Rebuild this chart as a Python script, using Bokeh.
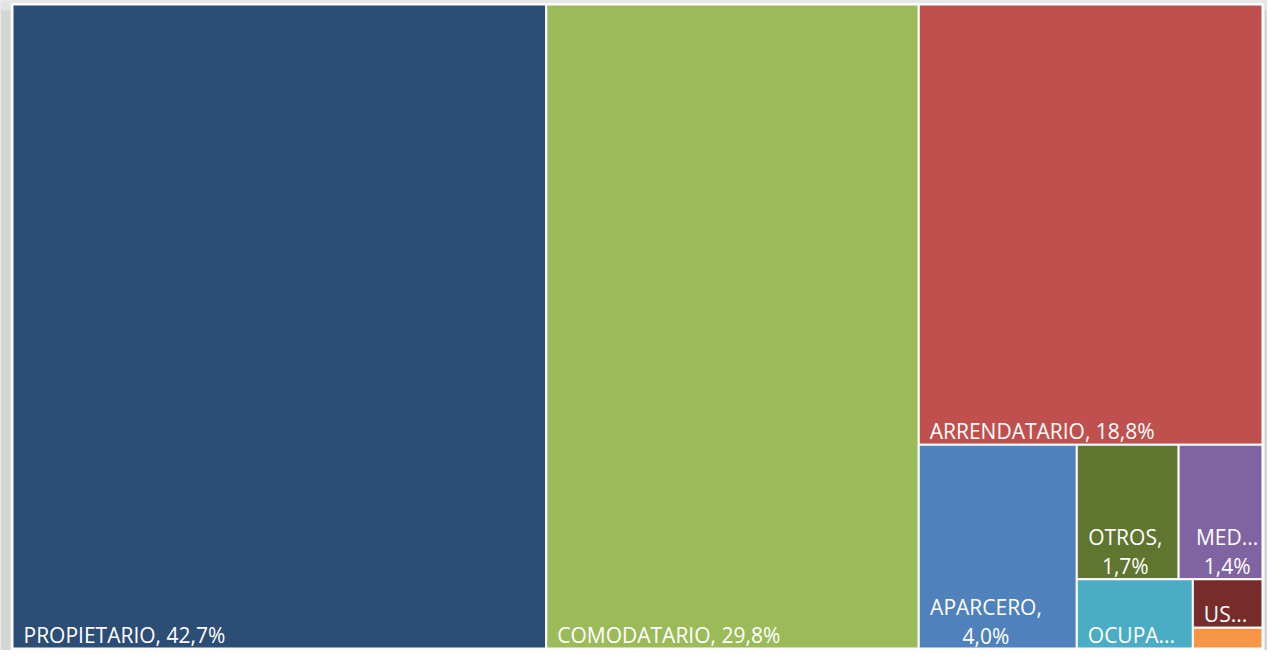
from bokeh.plotting import figure
from bokeh.models import Range1d, ColumnDataSource
from bokeh.core.properties import value
from bokeh.embed import file_html
from bokeh.resources import INLINE

# ---- data ----
categories = ["PROPIETARIO", "COMODATARIO", "ARRENDATARIO", "APARCERO", "OTROS",
              "MEDIANERO", "OCUPANTE", "USUFRUCTUARIO", "OTRO"]
shares = [42.7, 29.8, 18.8, 4.0, 1.7, 1.4, 1.0, 0.42, 0.18]
label_lines = [["PROPIETARIO, 42,7%"], ["COMODATARIO, 29,8%"], ["ARRENDATARIO, 18,8%"],
               ["APARCERO,", "4,0%"], ["OTROS,", "1,7%"], ["MED...", "1,4%"],
               ["OCUPA..."], ["US..."], []]
colors = ["#2C4D75", "#9BBB59", "#C0504D", "#4F81BD", "#5F7530",
          "#8064A2", "#4BACC6", "#772C2A", "#F79646"]

W, H = 1267, 650
X0, X1, Y0, Y1 = 12, 1262, 4, 648

v = dict(zip(categories, shares))
total = sum(shares)
rects = {}

def tot(names):
    return sum(v[n] for n in names)

col3 = ["ARRENDATARIO", "APARCERO", "OTROS", "MEDIANERO", "OCUPANTE", "USUFRUCTUARIO", "OTRO"]
W_all = X1 - X0
xa = X0
wP = W_all * v["PROPIETARIO"] / total
rects["PROPIETARIO"] = (xa, xa + wP, Y0, Y1); xa += wP
wC = W_all * v["COMODATARIO"] / total
rects["COMODATARIO"] = (xa, xa + wC, Y0, Y1); xa += wC
c3x0, c3x1 = xa, X1
hA = (Y1 - Y0) * v["ARRENDATARIO"] / tot(col3)
rects["ARRENDATARIO"] = (c3x0, c3x1, Y0, Y0 + hA)
by0 = Y0 + hA
rest = col3[1:]
wAp = (c3x1 - c3x0) * v["APARCERO"] / tot(rest)
rects["APARCERO"] = (c3x0, c3x0 + wAp, by0, Y1)
sx0 = c3x0 + wAp
small = rest[1:]
top = ["OTROS", "MEDIANERO"]
bot = ["OCUPANTE", "USUFRUCTUARIO", "OTRO"]
ht = (Y1 - by0) * tot(top) / tot(small)
x = sx0
for n in top:
    w = (c3x1 - sx0) * v[n] / tot(top)
    rects[n] = (x, x + w, by0, by0 + ht); x += w
wO = (c3x1 - sx0) * v["OCUPANTE"] / tot(bot)
rects["OCUPANTE"] = (sx0, sx0 + wO, by0 + ht, Y1)
ux0 = sx0 + wO
hu = (Y1 - by0 - ht) * v["USUFRUCTUARIO"] / (v["USUFRUCTUARIO"] + v["OTRO"])
rects["USUFRUCTUARIO"] = (ux0, c3x1, by0 + ht, by0 + ht + hu)
rects["OTRO"] = (ux0, c3x1, by0 + ht + hu, Y1)

p = figure(width=W, height=H, output_backend="svg", toolbar_location=None,
           x_range=Range1d(0, W), y_range=Range1d(H, 0), min_border=0)
p.axis.visible = False
p.grid.visible = False
p.outline_line_color = None
p.background_fill_color = "#d5d5d5"
p.border_fill_color = "#d5d5d5"

p.quad(left=[0], right=[W], top=[0], bottom=[10], fill_color="#e4e4e4", line_color=None)
p.quad(left=[X0 - 2], right=[X1 + 2], top=[Y0 - 2], bottom=[Y1 + 2],
       fill_color="#f2f2f2", line_color=None)

src = ColumnDataSource(dict(
    left=[rects[n][0] for n in categories],
    right=[rects[n][1] for n in categories],
    top=[rects[n][2] for n in categories],
    bottom=[rects[n][3] for n in categories],
    color=colors))
p.quad(left="left", right="right", top="top", bottom="bottom", fill_color="color",
       line_color="white", line_width=2, source=src)

FONT = value("Open Sans")
FS = "21px"
char_w = 12.5
sx, sy, st = [], [], []
mx, my, mt = [], [], []
for n, lines in zip(categories, label_lines):
    if not lines:
        continue
    l, r, t, b = rects[n]
    if len(lines) == 1:
        sx.append(l + 11); sy.append(b - 14); st.append(lines[0])
    else:
        maxw = max(len(s) for s in lines) * char_w
        cx = l + 11 + maxw / 2
        nl = len(lines)
        for i, s in enumerate(lines):
            mx.append(cx); my.append(b - 13 - (nl - 1 - i) * 29); mt.append(s)
p.text(x=sx, y=sy, text=st, text_align="left", text_baseline="alphabetic",
       text_color="white", text_font=FONT, text_font_size=FS)
p.text(x=mx, y=my, text=mt, text_align="center", text_baseline="alphabetic",
       text_color="white", text_font=FONT, text_font_size=FS)

open("out.html", "w").write(file_html(p, INLINE))
